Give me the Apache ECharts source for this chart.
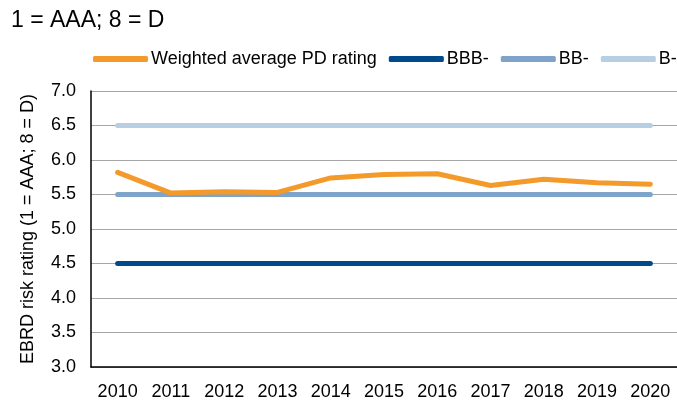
<!DOCTYPE html>
<html>
<head>
	<meta charset="UTF-8" />
	<title>EBRD risk rating</title>
	<style>
		html, body { margin: 0; padding: 0; background: #fff; }
		#chart { width: 677px; height: 401px; }
	</style>
	<script type="text/javascript" src="https://cdn.jsdelivr.net/npm/echarts@6/dist/echarts.min.js"></script>
</head>
<body>
	<div id="chart"></div>
	<script>
		var years = ["2010", "2011", "2012", "2013", "2014", "2015", "2016", "2017", "2018", "2019", "2020"];
		var weightedPD = [5.82, 5.52, 5.54, 5.53, 5.74, 5.79, 5.80, 5.63, 5.72, 5.67, 5.65];
		var bbbMinus = [4.5, 4.5, 4.5, 4.5, 4.5, 4.5, 4.5, 4.5, 4.5, 4.5, 4.5];
		var bbMinus = [5.5, 5.5, 5.5, 5.5, 5.5, 5.5, 5.5, 5.5, 5.5, 5.5, 5.5];
		var bMinus = [6.5, 6.5, 6.5, 6.5, 6.5, 6.5, 6.5, 6.5, 6.5, 6.5, 6.5];

		var font = "Liberation Sans, Arial, sans-serif";
		var myChart = echarts.init(document.getElementById("chart"));

		function lineSeries(name, data, color, z) {
			return {
				name: name,
				type: "line",
				data: data,
				symbol: "none",
				z: z,
				lineStyle: { color: color, width: 5, cap: "round", join: "round" },
				itemStyle: { color: color },
				emphasis: { disabled: true }
			};
		}

		var option = {
			animation: false,
			title: {
				text: "1 = AAA; 8 = D",
				left: 11,
				top: 9,
				padding: 0,
				textStyle: { fontFamily: font, fontSize: 23, fontWeight: "normal", color: "#000" }
			},
			legend: {
				top: 50,
				left: 93,
				padding: 0,
				itemWidth: 55,
				itemHeight: 6,
				itemGap: 12,
				icon: "roundRect",
				textStyle: { fontFamily: font, fontSize: 18, color: "#000", padding: [0, 0, 0, -2] },
				data: ["Weighted average PD rating", "BBB-", "BB-", "B-"]
			},
			grid: { left: 91, top: 91, width: 592, height: 279, containLabel: false },
			xAxis: {
				type: "category",
				data: years,
				boundaryGap: true,
				axisTick: { show: false },
				axisLine: { lineStyle: { color: "#000", width: 1.5 } },
				axisLabel: { fontFamily: font, fontSize: 18, color: "#000", margin: 16 }
			},
			yAxis: {
				type: "value",
				min: 3,
				max: 7,
				interval: 0.5,
				name: "EBRD risk rating (1 = AAA; 8 = D)",
				nameLocation: "middle",
				nameGap: 54,
				nameTextStyle: { fontFamily: font, fontSize: 18, color: "#000" },
				axisLine: { show: true, lineStyle: { color: "#000", width: 1.5 } },
				axisTick: { show: false },
				axisLabel: {
					fontFamily: font, fontSize: 18, color: "#000", margin: 15,
					formatter: function (v) { return v.toFixed(1); }
				},
				splitLine: { lineStyle: { color: "#A6A6A6", width: 1 } }
			},
			series: [
				lineSeries("Weighted average PD rating", weightedPD, "#F39A2B", 5),
				lineSeries("BBB-", bbbMinus, "#004A8C", 4),
				lineSeries("BB-", bbMinus, "#7FA4C9", 4),
				lineSeries("B-", bMinus, "#B8CEE3", 3)
			]
		};

		myChart.setOption(option);
	</script>
</body>
</html>
